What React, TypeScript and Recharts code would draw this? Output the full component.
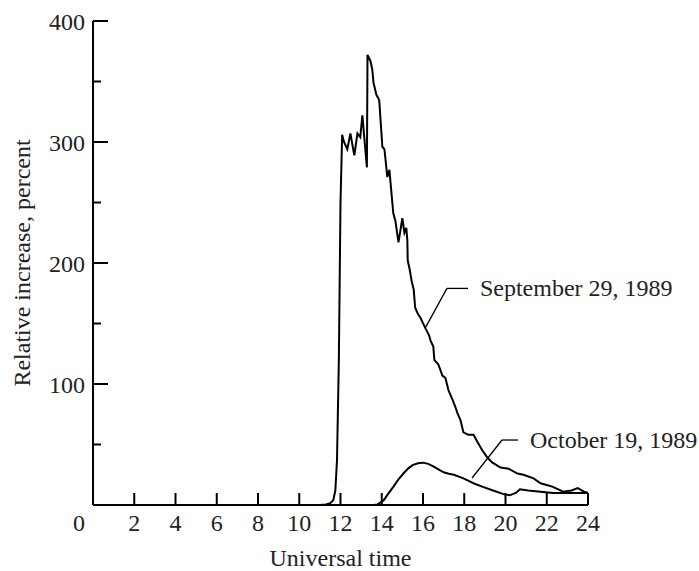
import React from "react";
import { LineChart, Line, XAxis, YAxis, ReferenceLine, ReferenceDot } from "recharts";

// Sept 29, 1989 event
const sepHours = [11.0, 11.3, 11.5, 11.65, 11.75, 11.83, 11.92, 12.0, 12.08, 12.17, 12.33, 12.48, 12.67, 12.82, 12.96, 13.06, 13.28, 13.31, 13.45, 13.54, 13.6, 13.74, 13.84, 13.88, 14.03, 14.13, 14.27, 14.37, 14.56, 14.66, 14.81, 15.0, 15.1, 15.19, 15.24, 15.26, 15.35, 15.45, 15.55, 15.62, 15.75, 15.87, 16.12, 16.3, 16.36, 16.5, 16.55, 16.75, 16.94, 17.09, 17.23, 17.43, 17.57, 17.67, 17.82, 17.96, 18.2, 18.45, 18.64, 18.88, 19.13, 19.37, 19.76, 20.15, 20.58, 20.87, 21.36, 21.7, 22.0, 22.3, 22.8, 23.2, 23.5, 23.8, 24.0];
const sepValues = [0, 0.5, 1.5, 4, 12, 37, 120, 250, 306, 300, 294, 307, 289, 307, 304, 322, 279, 372, 367, 360, 349, 339, 336, 334, 296, 294, 271, 277, 241, 235, 217, 237, 225, 229, 219, 202, 195, 185, 178, 163, 158, 155, 146, 140, 136, 131, 120, 116, 107, 105, 95, 87, 81, 76, 70, 60, 58, 58, 52, 45, 39, 35, 31, 30, 26, 25, 22, 18, 16.5, 15, 11, 12, 14, 11, 10];

// Oct 19, 1989 event
const octHours = [13.6, 13.8, 14.1, 14.3, 14.56, 14.8, 15.05, 15.3, 15.5, 15.75, 16.0, 16.25, 16.5, 16.75, 17.0, 17.25, 17.5, 17.96, 18.45, 18.9, 19.4, 19.9, 20.2, 20.5, 20.7, 21.1, 21.7, 22.3, 23.0, 24.0];
const octValues = [0, 0.5, 4, 9, 15, 21, 26, 30.5, 33, 34.5, 35, 34, 32, 29.5, 27, 25.8, 25, 22, 18, 15, 12, 9, 8, 10, 13, 12, 11, 10, 10, 10];

const xTicks = [0, 2, 4, 6, 8, 10, 12, 14, 16, 18, 20, 22, 24];
const yTicks = [50, 100, 150, 200, 250, 300, 350, 400];

const sepData = sepHours.map((h, i) => ({ h, v: sepValues[i] }));
const octData = octHours.map((h, i) => ({ h, v: octValues[i] }));

const FONT = "'Liberation Serif', 'Times New Roman', serif";
const TEXT = "#222";

const XTick = ({ x, y, payload }: any) => {
  const v = payload.value;
  return (
    <g>
      {v !== 0 && <line x1={x} y1={y} x2={x} y2={y - 12} stroke="#000" strokeWidth={2} />}
      <text x={v === 0 ? x - 14 : x} y={y + 18} textAnchor="middle" dominantBaseline="central"
        fontFamily={FONT} fontSize={24} fill={TEXT}>{v}</text>
    </g>
  );
};

const YTick = ({ x, y, payload }: any) => {
  const v = payload.value;
  const major = v % 100 === 0;
  return (
    <g>
      <line x1={x} y1={y} x2={x + (major ? 15 : 8)} y2={y} stroke="#000" strokeWidth={2} />
      {major && (
        <text x={x - 8} y={y + 1} textAnchor="end" dominantBaseline="central"
          fontFamily={FONT} fontSize={24} fill={TEXT}>{v}</text>
      )}
    </g>
  );
};

const labelAt = (value: string) => ({ cx, cy }: any) => (
  <text x={cx} y={cy} textAnchor="start" dominantBaseline="central"
    fontFamily={FONT} fontSize={24} fill={TEXT}>{value}</text>
);

export default function App() {
  return (
    <div style={{ position: "absolute", left: 0, top: 0, background: "#fff" }}>
      <LineChart width={699} height={571} margin={{ top: 21, right: 111, bottom: 0, left: 0 }}>
        <XAxis
          dataKey="h"
          type="number"
          domain={[0, 24]}
          ticks={xTicks}
          interval={0}
          height={66}
          tickSize={0}
          tickMargin={0}
          tickLine={false}
          axisLine={{ stroke: "#000", strokeWidth: 2 }}
          tick={<XTick />}
          allowDataOverflow
          label={{
            value: "Universal time",
            content: (p: any) => {
              const vb = p.viewBox;
              return (
                <text x={vb.x + vb.width / 2} y={vb.y + 53} textAnchor="middle" dominantBaseline="central"
                  fontFamily={FONT} fontSize={24} fill={TEXT}>Universal time</text>
              );
            },
          }}
        />
        <YAxis
          type="number"
          domain={[0, 400]}
          ticks={yTicks}
          interval={0}
          width={93}
          tickSize={0}
          tickMargin={0}
          tickLine={false}
          axisLine={{ stroke: "#000", strokeWidth: 2 }}
          tick={<YTick />}
          allowDataOverflow
          label={{
            value: "Relative increase, percent",
            content: (p: any) => {
              const vb = p.viewBox;
              const cx = vb.x + 22;
              const cy = vb.y + vb.height / 2;
              return (
                <text x={cx} y={cy} transform={`rotate(-90, ${cx}, ${cy})`} textAnchor="middle"
                  dominantBaseline="central" fontFamily={FONT} fontSize={24} fill={TEXT}>
                  Relative increase, percent
                </text>
              );
            },
          }}
        />
        <Line data={sepData} dataKey="v" type="linear" stroke="#000" strokeWidth={2}
          dot={false} activeDot={false} isAnimationActive={false} />
        <Line data={octData} dataKey="v" type="linear" stroke="#000" strokeWidth={2}
          dot={false} activeDot={false} isAnimationActive={false} />

        {/* leader for September */}
        <ReferenceLine segment={[{ x: 16.1, y: 146 }, { x: 17.16, y: 179 }]} stroke="#000" strokeWidth={1.3} />
        <ReferenceLine segment={[{ x: 17.16, y: 179 }, { x: 18.18, y: 179 }]} stroke="#000" strokeWidth={1.3} />
        <ReferenceDot x={18.76} y={179} r={0} shape={labelAt("September 29, 1989")} />

        {/* leader for October */}
        <ReferenceLine segment={[{ x: 18.38, y: 22.3 }, { x: 19.83, y: 53.7 }]} stroke="#000" strokeWidth={1.3} />
        <ReferenceLine segment={[{ x: 19.83, y: 53.7 }, { x: 20.6, y: 53.7 }]} stroke="#000" strokeWidth={1.3} />
        <ReferenceDot x={21.19} y={53.7} r={0} shape={labelAt("October 19, 1989")} />
      </LineChart>
    </div>
  );
}
